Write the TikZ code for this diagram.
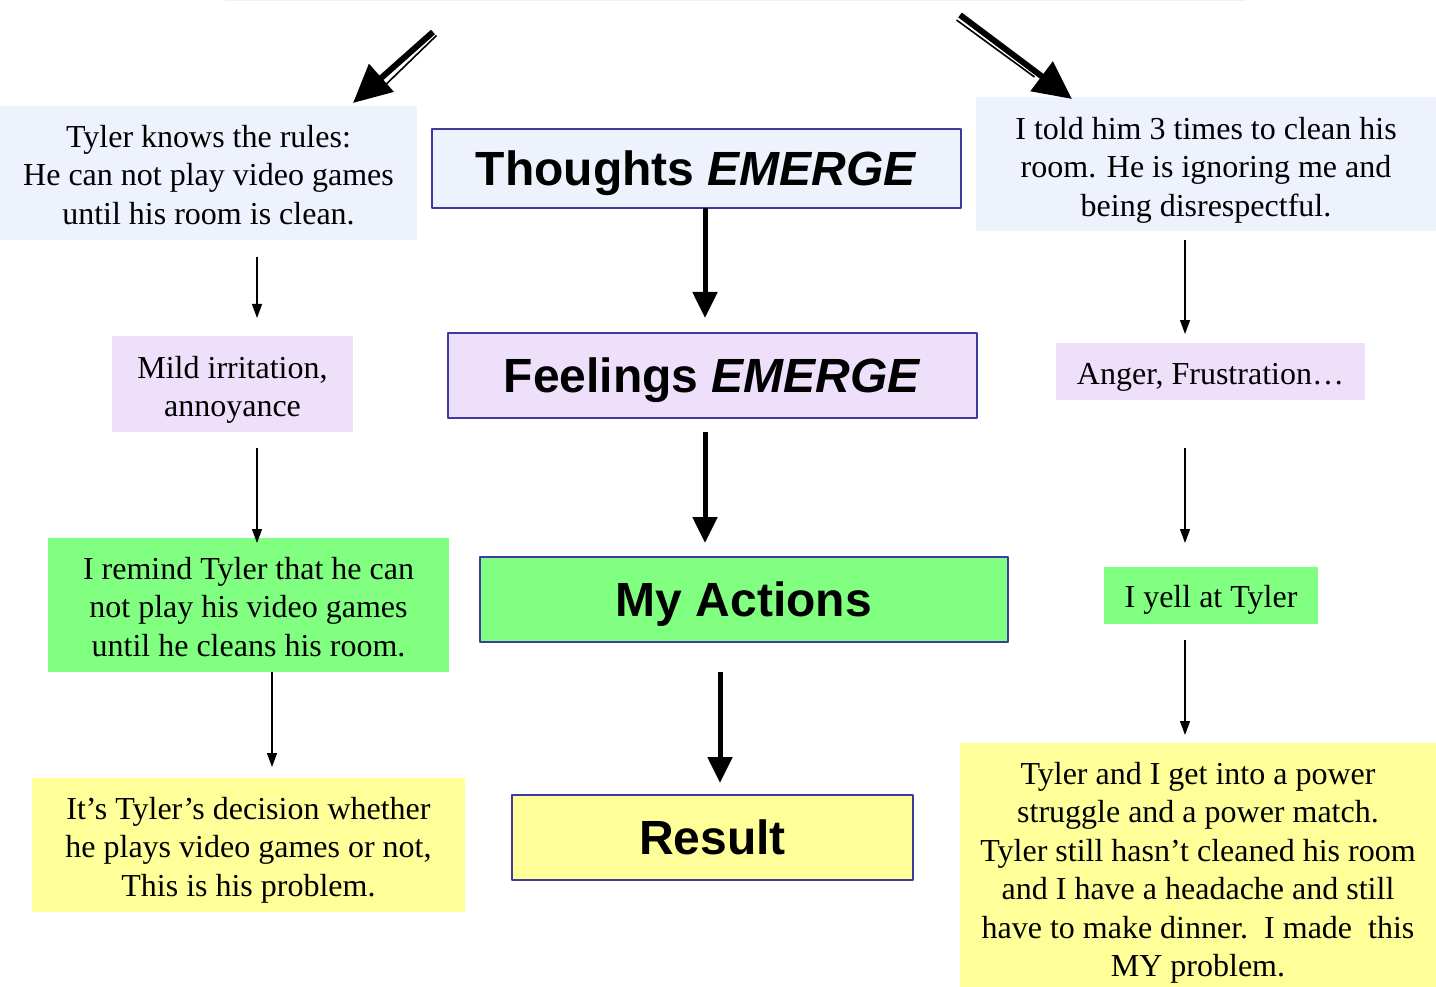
\documentclass[tikz,border=0pt]{standalone}
\usepackage{fontspec}
\setmainfont{Liberation Serif}
\newfontfamily\headfont{Liberation Sans}
\usetikzlibrary{arrows.meta}
\definecolor{thinkblue}{HTML}{EEF2FD}
\definecolor{feellilac}{HTML}{EEE0FA}
\definecolor{actgreen}{HTML}{80FF80}
\definecolor{resyellow}{HTML}{FFFF99}
\definecolor{frameblue}{HTML}{3C3CA0}
\newcommand{\firstrow}[1]{\rule{0pt}{#1}}
\tikzset{
  story/.style={inner sep=0pt, outer sep=0pt, align=center, font=\fontsize{32}{38.5}\selectfont},
  stage/.style={draw=frameblue, line width=2pt, inner sep=0pt, outer sep=0pt, text depth=0pt, font=\headfont\fontsize{48}{56}\selectfont\bfseries},
  thinconn/.style={-{Triangle[width=10pt,length=14pt]}, line width=1.2pt},
  thickconn/.style={-{Triangle[width=24pt,length=26pt]}, line width=5pt},
  bigconn/.style={-{Triangle[width=36pt,length=38pt]}, line width=6pt},
}
\begin{document}
\begin{tikzpicture}[x=1pt, y=-1pt, line join=round]
			\useasboundingbox (0,0) rectangle (1436,987);
			\draw[red!8, line width=1.5pt] (225,0.7) -- (1245,0.7);
			
			\node[story, fill=thinkblue, minimum width=417pt, minimum height=134pt] (L1) at (208.5,173) {\firstrow{26pt}Tyler knows the rules:\\He can not play video games\\until his room is clean.};
			\node[story, fill=feellilac, minimum width=241pt, minimum height=96pt] (L2) at (232.5,384) {\firstrow{34pt}Mild irritation,\\annoyance};
			\node[story, fill=actgreen, minimum width=401pt, minimum height=134pt] (L3) at (248.5,605) {\firstrow{26pt}I remind Tyler that he can\\not play his video games\\until he cleans his room.};
			\node[story, fill=resyellow, minimum width=433pt, minimum height=134pt] (L4) at (248.5,845) {\firstrow{32pt}It’s Tyler’s decision whether\\he plays video games or not,\\This is his problem.};
			
			\node[stage, fill=thinkblue, minimum width=529pt, minimum height=79pt] (C1) at (696.5,168.5) {Thoughts \textit{EMERGE}};
			\node[stage, fill=feellilac, minimum width=529pt, minimum height=85pt] (C2) at (712.5,375.5) {Feelings \textit{EMERGE}};
			\node[stage, fill=actgreen, minimum width=528pt, minimum height=85pt] (C3) at (744,599.5) {My Actions};
			\node[stage, fill=resyellow, minimum width=401pt, minimum height=85pt] (C4) at (712.5,837.5) {Result};
			
			\node[story, fill=thinkblue, minimum width=460pt, minimum height=134pt] (R1) at (1206,164) {\firstrow{34pt}I told him 3 times to clean his\\room. He is ignoring me and\\being disrespectful.};
			\node[story, fill=feellilac, minimum width=309pt, minimum height=57pt] (R2) at (1210.5,371.5) {\firstrow{32pt}Anger, Frustration…};
			\node[story, fill=actgreen, minimum width=214pt, minimum height=57pt] (R3) at (1211,595.5) {\firstrow{30pt}I yell at Tyler};
			\node[story, fill=resyellow, minimum width=476pt, minimum height=244pt] (R4) at (1198,865) {\firstrow{38pt}Tyler and I get into a power\\struggle and a power match.\\Tyler still hasn’t cleaned his room\\and I have a headache and still\\have to make dinner.\ \ I made\ \ this\\MY problem.};
			
			\draw[thinconn, shorten <=17pt, shorten >=18pt] (L1.south -| 257,0) -- (L2.north -| 257,0);
			\draw[thinconn, shorten <=16pt, shorten >=-5pt] (L2.south -| 257,0) -- (L3.north -| 257,0);
			\draw[thinconn, shorten >=11pt] (L3.south -| 272,0) -- (L4.north -| 272,0);
			
			\draw[thickconn, shorten >=15pt] (C1.south -| 705,0) -- (C2.north -| 705,0);
			\draw[thickconn, shorten <=14pt, shorten >=14pt] (C2.south -| 705,0) -- (C3.north -| 705,0);
			\draw[thickconn, shorten <=30pt, shorten >=12pt] (C3.south -| 720,0) -- (C4.north -| 720,0);
			
			\draw[thinconn, shorten <=9pt, shorten >=9pt] (R1.south -| 1185,0) -- (R2.north -| 1185,0);
			\draw[thinconn, shorten <=48pt, shorten >=24pt] (R2.south -| 1185,0) -- (R3.north -| 1185,0);
			\draw[thinconn, shorten <=16pt, shorten >=8pt] (R3.south -| 1185,0) -- (R4.north -| 1185,0);
			
			\coordinate (LT) at (433,32);
			\coordinate (RT) at (960,15);
			\draw[bigconn] (LT) -- ([shift={(-1,-3)}]L1.north east -| 354,0);
			\draw[line width=1.6pt] ([shift={(3.5,3.5)}]LT) -- ++(-62,60);
			\draw[bigconn] (RT) -- ([yshift=-2pt]R1.north -| 1072,0);
			\draw[line width=1.6pt] ([shift={(-3.5,5)}]RT) -- ++(78,57);
\end{tikzpicture}
\end{document}
